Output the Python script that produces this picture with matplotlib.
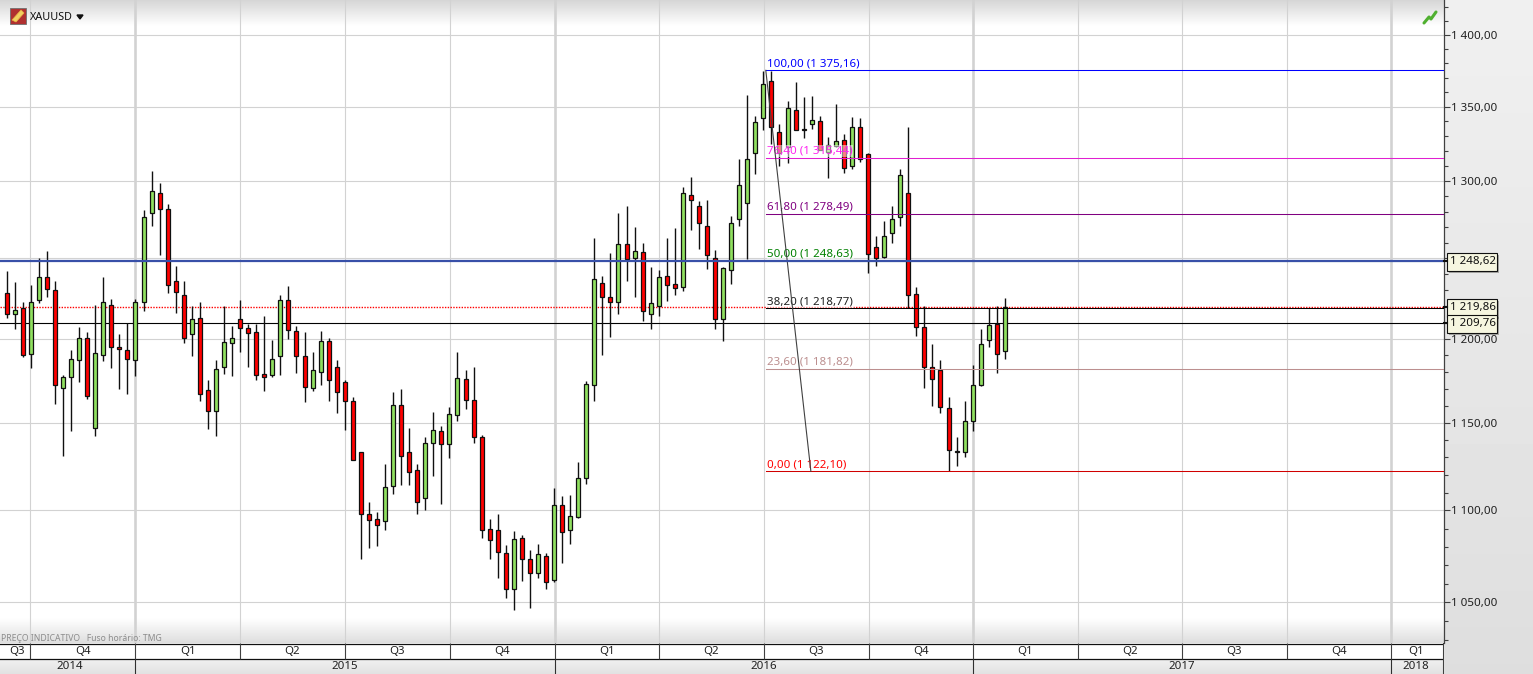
"""
XAUUSD weekly candles with a Fibonacci retracement, trading-platform look.
"""

import numpy as np
import matplotlib.pyplot as plt
from matplotlib.patches import Rectangle, Polygon
import matplotlib.patheffects as pe

plt.rcParams["font.family"] = ["Noto Sans", "DejaVu Sans"]

FIG_W, FIG_H = 1533, 674
PLOT_W, PLOT_H = 1444, 643

# weekly candles
opens = [
    1228, 1215, 1219, 1191, 1224, 1238, 1230, 1170.6, 1177, 1187,
    1200.5, 1147, 1190, 1221, 1195, 1193, 1187.5, 1222.5, 1279, 1292,
    1281.5, 1236, 1227, 1203, 1213, 1169.5, 1157, 1183, 1197.5, 1212.5,
    1206.5, 1204, 1179, 1178, 1189.5, 1224, 1205, 1189.5, 1170.6, 1180,
    1199, 1183, 1174, 1163, 1133, 1098, 1095, 1094, 1114, 1160.5,
    1133, 1123, 1107, 1138.5, 1145, 1137.5, 1154.5, 1176, 1163.5, 1141.5,
    1089.5, 1089, 1076.5, 1057, 1085, 1073, 1065.5, 1075, 1062, 1103,
    1089, 1096.5, 1118, 1172.5, 1234.5, 1225.5, 1222.5, 1259.5, 1250, 1254,
    1215, 1220, 1239, 1234, 1232, 1291, 1283.5, 1270.5, 1250.5, 1212.5,
    1242.5, 1275, 1285.5, 1319, 1342, 1368, 1332.5, 1322.5, 1348, 1335,
    1338, 1340, 1319.5, 1323.5, 1327.5, 1310, 1336, 1318, 1257, 1251,
    1266, 1276.5, 1292, 1227.5, 1207.5, 1183, 1181, 1158.5, 1133, 1133,
    1151, 1172, 1199.5, 1209, 1192.5,
]
highs = [
    1242, 1235, 1223, 1233, 1250, 1255, 1235.5, 1178, 1193, 1207,
    1204, 1221, 1238, 1224.5, 1203, 1209.6, 1224.4, 1281, 1307, 1299,
    1285, 1245.5, 1236, 1220, 1223, 1175, 1187.5, 1220, 1208, 1224,
    1209, 1209, 1214, 1199.5, 1227, 1232.5, 1208, 1204, 1192, 1205,
    1200.5, 1187.5, 1175, 1165, 1133, 1104.5, 1099, 1126.5, 1168, 1170,
    1147, 1126.5, 1141.5, 1156.5, 1148, 1159.5, 1192, 1181, 1183, 1143,
    1095, 1098, 1081, 1088.5, 1086.5, 1078, 1081.5, 1076.5, 1112.5, 1108,
    1108.5, 1127.5, 1174.5, 1263, 1239, 1253.5, 1279, 1284, 1270, 1260,
    1244.5, 1243, 1263, 1269.5, 1296, 1303, 1287, 1287.5, 1255.5, 1244.5,
    1277, 1315, 1358, 1344, 1375, 1375, 1338, 1354, 1367, 1356.5,
    1357.5, 1344, 1329.5, 1352, 1331.5, 1343, 1342, 1319, 1264.5, 1274,
    1284, 1308, 1336, 1232, 1220.5, 1197, 1187.5, 1165, 1142, 1163,
    1184.5, 1206, 1219, 1220.5, 1225,
]
lows = [
    1213, 1206, 1189, 1182.5, 1222, 1226, 1161, 1131, 1145.5, 1174,
    1164, 1142.5, 1186.5, 1182.5, 1170, 1167, 1177.5, 1217, 1271, 1252,
    1228, 1216, 1197.5, 1189.5, 1163, 1146.5, 1142.5, 1179, 1177.5, 1192,
    1183, 1175, 1169, 1177, 1178, 1200, 1179.5, 1162, 1168.5, 1172,
    1162.6, 1156, 1146, 1128.5, 1073, 1079.5, 1080.5, 1089, 1109, 1114.5,
    1114.5, 1098, 1100, 1119.5, 1103.5, 1129.5, 1151, 1158, 1138.5, 1084.5,
    1073, 1063, 1052, 1046, 1061.5, 1047, 1063, 1057, 1061, 1071,
    1081.5, 1096, 1115, 1163, 1190, 1201, 1215, 1236, 1225.5, 1211,
    1206, 1214, 1223.5, 1227, 1229.5, 1268, 1256, 1243.5, 1206, 1199,
    1234, 1271, 1249.5, 1305, 1334.5, 1325, 1310, 1312, 1334.5, 1329,
    1335, 1320.5, 1302, 1323, 1305.5, 1308, 1313, 1241, 1245.5, 1250,
    1260, 1270.5, 1219, 1202, 1170.5, 1160, 1155.5, 1122.1, 1125, 1130.5,
    1145.5, 1171.5, 1195, 1179.5, 1188,
]
closes = [
    1215, 1218, 1190, 1223, 1238, 1231, 1172, 1177, 1188, 1200.5,
    1166, 1191.5, 1222.5, 1195, 1194, 1188, 1222.5, 1276.5, 1293.6, 1282,
    1233.5, 1229, 1200.5, 1212, 1167, 1157, 1182, 1198, 1200.5, 1206.5,
    1203.5, 1178.5, 1177, 1188, 1224, 1205.5, 1189.5, 1171, 1181, 1199,
    1175, 1168, 1163, 1128.5, 1098, 1094.5, 1092, 1113, 1160.5, 1131,
    1121.5, 1105, 1138.5, 1146, 1138, 1155, 1176.5, 1163.5, 1142, 1089,
    1083.5, 1077, 1057, 1084, 1073.5, 1065.5, 1076, 1061, 1103, 1088,
    1097, 1118, 1173, 1237, 1226, 1222.5, 1259, 1249.5, 1255, 1217,
    1222, 1238, 1233, 1231.5, 1292, 1287.5, 1272.5, 1252, 1212, 1244,
    1272.5, 1297.5, 1315, 1339.5, 1366, 1336, 1318.5, 1349, 1334.5, 1334.5,
    1341, 1320.5, 1324, 1327, 1309, 1336, 1314.5, 1253, 1250, 1264.5,
    1275, 1304, 1227, 1207.5, 1183, 1176, 1159, 1134, 1133.5, 1151,
    1172, 1197, 1208.5, 1191, 1219.86,
]

# price axis
y_major = [1050, 1100, 1150, 1200, 1250, 1300, 1350, 1400]
y_major_labels = ["1 050,00", "1 100,00", "1 150,00", "1 200,00", "",
                  "1 300,00", "1 350,00", "1 400,00"]
y_minor = list(range(1030, 1430, 10))

# time axis, in weeks from the first candle
quarter_edges = [2.95, 15.95, 29.0, 42.0, 55.05, 68.1, 81.0, 94.05, 107.1,
                 120.0, 133.05, 146.0, 159.0, 172.0]
quarter_labels = ["Q3", "Q4", "Q1", "Q2", "Q3", "Q4", "Q1", "Q2", "Q3", "Q4",
                  "Q1", "Q2", "Q3", "Q4", "Q1"]
year_edges = [15.95, 68.1, 120.0, 172.0]
year_labels = ["2014", "2015", "2016", "2017", "2018"]
time_start, time_end = -0.33, 178.05

# Fibonacci levels
fib_start, fib_end = 94.3, 99.9
fib_levels = [1375.16, 1315.44, 1278.49, 1248.63, 1218.77, 1181.82, 1122.10]
fib_labels = ["100,00 (1 375,16)", "76,40 (1 315,44)", "61,80 (1 278,49)",
              "50,00 (1 248,63)", "38,20 (1 218,77)", "23,60 (1 181,82)",
              "0,00 (1 122,10)"]
fib_text_colors = ["#0000FF", "#FF20F0", "#800080", "#008000", "#202020",
                   "#BC8F8F", "#FF0000"]
fib_line_colors = ["#0000FF", "#E020D0", "#800080", "#008000", "#000000",
                   "#BC8F8F", "#D00000"]

# price lines marked on the axis
support_price = 1248.62
last_price = 1219.86
close_price = 1209.76

GREEN = "#90E060"
RED = "#FF0000"
GRID = "#D2D2D2"


def vgrad(ax, x0, x1, y0, y1, c0, c1):
    """Vertical grey gradient, from c0 at y0 to c1 at y1 (pixel coords)."""
    col = np.linspace(c0, c1, 64).reshape(-1, 1)
    ax.imshow(col, cmap="gray", vmin=0, vmax=255, aspect="auto",
              extent=(x0, x1, y1, y0), interpolation="bilinear", zorder=1)


fig = plt.figure(figsize=(FIG_W / 100, FIG_H / 100), dpi=100, facecolor="white")

# background panels, in pixel coordinates
bg = fig.add_axes([0, 0, 1, 1], zorder=0)
vgrad(bg, PLOT_W, FIG_W, 0, FIG_H, 240, 222)
vgrad(bg, 0, PLOT_W, 0, 26, 214, 255)
vgrad(bg, 0, PLOT_W, 618, PLOT_H, 255, 222)
vgrad(bg, 0, PLOT_W, 659, FIG_H, 240, 226)
bg.set_xlim(0, FIG_W)
bg.set_ylim(FIG_H, 0)
bg.axis("off")

# main price chart
ax = fig.add_axes([0, 1 - PLOT_H / FIG_H, PLOT_W / FIG_W, PLOT_H / FIG_H],
                  zorder=2)
ax.patch.set_alpha(0)
ax.set_yscale("log")
ax.set_xlim(-0.83, 178.55)
ax.set_ylim(1028.5, 1425.1)

ax.set_yticks(y_major, labels=y_major_labels)
ax.set_yticks(y_minor, labels=[""] * len(y_minor), minor=True)
ax.set_xticks([])
ax.yaxis.tick_right()
ax.tick_params(axis="y", which="major", length=4.4, width=0.8, color="#404040",
               labelsize=8.3, labelcolor="#202020", pad=0.8)
ax.tick_params(axis="y", which="minor", length=2.9, width=0.8, color="#404040")
ax.grid(True, axis="y", which="major", color=GRID, lw=0.8, zorder=1)
for side in ["top", "left", "bottom"]:
    ax.spines[side].set_visible(False)
ax.spines["right"].set_color("#404040")
ax.spines["right"].set_linewidth(0.9)

for edge in quarter_edges:
    thick = edge in year_edges
    ax.axvline(edge, color=GRID, lw=1.9 if thick else 0.8, zorder=1)

# price lines under the candles
ax.axhline(last_price, color="#FF0000", lw=1.0, ls=(0, (1, 1)), zorder=2)
ax.axhline(close_price, color="#000000", lw=0.8, zorder=2)

# candles
weeks = np.arange(len(opens))
o, h, l, c = map(np.array, (opens, highs, lows, closes))
up = c >= o
body_low = np.minimum(o, c)
body_size = np.abs(c - o)
ax.vlines(weeks, l, h, color="#101010", lw=1.0, zorder=3)
ax.bar(weeks, body_size, bottom=body_low, width=0.5,
       color=[GREEN if u else RED for u in up],
       edgecolor="#101010", linewidth=0.9, zorder=4)

# Fibonacci lines, labels and trend line
for level, label, tc, lc in zip(fib_levels, fib_labels, fib_text_colors,
                                fib_line_colors):
    ax.plot([fib_start, ax.get_xlim()[1]], [level, level], color=lc, lw=0.75,
            zorder=5)
    ax.annotate(label, (fib_start, level), xytext=(1, 0.8),
                textcoords="offset points", fontsize=8.3, color=tc,
                va="bottom", ha="left", zorder=6,
                bbox=dict(fc="white", ec="none", alpha=0.5, pad=0.3))
ax.plot([fib_start, fib_end], [fib_levels[0], fib_levels[-1]],
        color="#404040", lw=0.8, zorder=6)

ax.axhline(support_price, color="#3850A8", lw=1.6, zorder=7)

# time axis strip below the chart
tx = fig.add_axes([0, 0, PLOT_W / FIG_W, (FIG_H - PLOT_H) / FIG_H], zorder=3)
tx.patch.set_alpha(0)
tx.set_xlim(ax.get_xlim())
tx.set_ylim(FIG_H, PLOT_H)
tx.set_xticks([])
tx.set_yticks([])
for side in tx.spines:
    tx.spines[side].set_visible(False)
tx.axhline(PLOT_H + 0.5, color="#101010", lw=0.9)
tx.axhline(659, color="#101010", lw=0.9)
tx.vlines(quarter_edges, PLOT_H, 659, color="#404040", lw=0.8)
tx.vlines(year_edges, 659, FIG_H, color="#303030", lw=0.8)
tx.axvline(tx.get_xlim()[1], color="#404040", lw=1.5)

q_bounds = [time_start] + quarter_edges + [time_end]
for left, right, label in zip(q_bounds[:-1], q_bounds[1:], quarter_labels):
    tx.text((left + right) / 2, 651.5, label, fontsize=8.3, color="#202020",
            ha="center", va="center")
y_bounds = [time_start] + year_edges + [time_end]
for left, right, label in zip(y_bounds[:-1], y_bounds[1:], year_labels):
    tx.text((left + right) / 2, 666.5, label, fontsize=8.3, color="#202020",
            ha="center", va="center")

# top overlay: instrument name, footer note and small icons, pixel coords
deco = fig.add_axes([0, 0, 1, 1], zorder=4)
deco.patch.set_alpha(0)
deco.set_xlim(0, FIG_W)
deco.set_ylim(FIG_H, 0)
deco.axis("off")
deco.text(30, 17, "XAUUSD", fontsize=7.8, color="#101010", va="center")
deco.add_patch(Polygon([[77, 15], [83, 15], [80, 19]], color="#101010"))
deco.add_patch(Rectangle((10, 8), 16, 16, fc="#B03030", ec="#707070", lw=0.6))
deco.add_patch(Polygon([[12, 20], [21, 10], [24, 13], [16, 22]], fc="#F0D060",
                       ec="#E8B040", lw=0.5))
deco.plot([1424, 1429, 1431, 1436], [23, 17, 19, 12], color="#50B030", lw=2.2,
          solid_capstyle="round")
deco.text(1, 638.5, "PREÇO INDICATIVO   Fuso horário: TMG", fontsize=6.2,
          color="#8C8C8C", va="center")

# value boxes beside the price axis, placed from the price scale
fig.canvas.draw()
for price in [support_price, last_price, close_price]:
    y_px = FIG_H - ax.transData.transform((0, price))[1]
    box = Rectangle((1447, y_px - 8), 50, 18, fc="#F6F6E0", ec="#101010",
                    lw=0.8, zorder=8)
    box.set_path_effects([pe.SimplePatchShadow(offset=(1.5, -1.5), alpha=0.4),
                          pe.Normal()])
    deco.add_patch(box)
    deco.plot([1444, 1447], [y_px, y_px], color="#101010", lw=1.5, zorder=8)
    deco.text(1450, y_px + 1, f"{price:,.2f}".replace(",", " ").replace(".", ","),
              fontsize=8.3, color="#101010", va="center", zorder=9)

fig.savefig("out.png", dpi=100, facecolor="white")
